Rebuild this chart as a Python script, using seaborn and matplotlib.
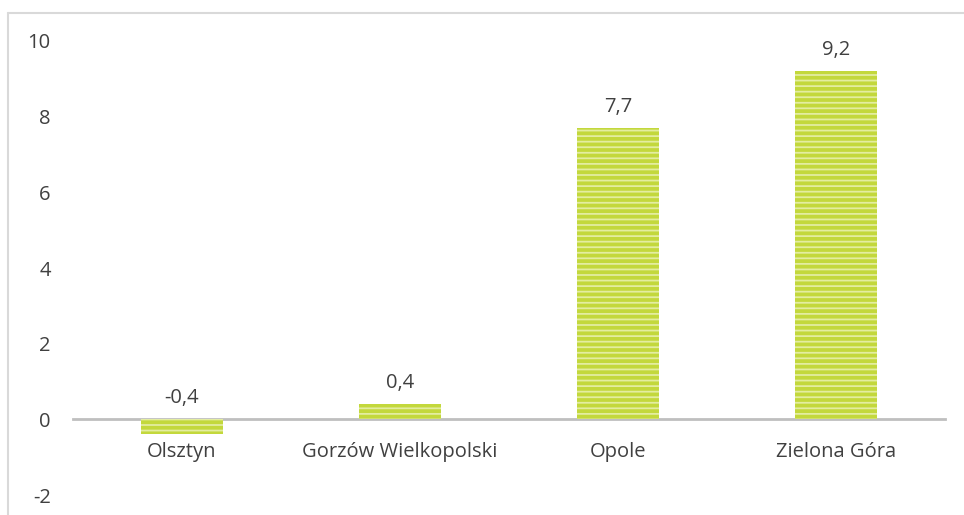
import matplotlib
matplotlib.use("Agg")
import matplotlib.pyplot as plt
import seaborn as sns
import pandas as pd
from matplotlib.lines import Line2D

categories = ["Olsztyn", "Gorzów Wielkopolski", "Opole", "Zielona Góra"]
values = [-0.4, 0.4, 7.7, 9.2]
value_labels = ["-0,4", "0,4", "7,7", "9,2"]
yticks = [-2, 0, 2, 4, 6, 8, 10]

sns.set_theme(style="white")
plt.rcParams["font.family"] = ["Open Sans", "DejaVu Sans"]
plt.rcParams["hatch.linewidth"] = 1.3

df = pd.DataFrame({"city": categories, "value": values})

fig = plt.figure(figsize=(9.64, 5.15), dpi=100)
ax = fig.add_axes([0.0757, 0.0388, 0.9046, 0.8816])

sns.barplot(data=df, x="city", y="value", ax=ax, color="#c3d83c",
            width=0.38, saturation=1)

for p in ax.patches:
    p.set_facecolor("#c3d83c")
    p.set_edgecolor("#e3eda0")
    p.set_hatch("---")
    p.set_linewidth(0)

ax.set_ylim(-2, 10)
ax.set_xlim(-0.5, 3.5)
ax.set_yticks(yticks)
ax.set_yticklabels([str(t) for t in yticks])
ax.set_xlabel("")
ax.set_ylabel("")

for s in ["top", "right", "left"]:
    ax.spines[s].set_visible(False)
ax.spines["bottom"].set_position(("data", 0))
ax.spines["bottom"].set_color("#bfbfbf")
ax.spines["bottom"].set_linewidth(2)
ax.spines["bottom"].set_zorder(0.5)

fs = 14.5
ax.tick_params(axis="x", length=0, pad=16, labelsize=fs, labelcolor="#404040")
ax.tick_params(axis="y", length=0, pad=16, labelsize=fs, labelcolor="#404040")

for i, (v, lab) in enumerate(zip(values, value_labels)):
    ax.annotate(lab, xy=(i, max(v, 0)), xytext=(0, 8), textcoords="offset points",
                ha="center", va="bottom", fontsize=fs, color="#404040")

# outer chart border (left and top visible)
fig.add_artist(Line2D([0.0088, 0.0088], [0, 1 - 12.5 / 515], transform=fig.transFigure,
                      color="#d9d9d9", linewidth=1.5))
fig.add_artist(Line2D([0.0088, 1.0], [1 - 12.5 / 515, 1 - 12.5 / 515], transform=fig.transFigure,
                      color="#d9d9d9", linewidth=1.5))

fig.savefig("out.png", dpi=100)
